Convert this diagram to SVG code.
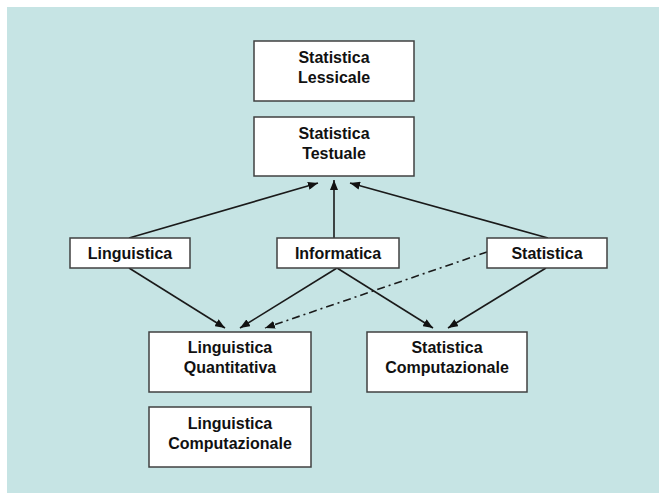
<svg xmlns="http://www.w3.org/2000/svg" width="660" height="493" viewBox="0 0 660 493">
<style>
.box{fill:#fff;stroke:#404040;stroke-width:1.5}
.t{font-family:"Liberation Sans",Arial,sans-serif;font-weight:bold;font-size:16px;fill:#111;text-anchor:middle}
.c{stroke:#1a1a1a;stroke-width:1.6;fill:none;marker-end:url(#ah)}
.dd{stroke-dasharray:8 4 2 4}
</style>
<defs>
<marker id="ah" viewBox="0 0 10 8" refX="10" refY="4" markerWidth="10" markerHeight="8" markerUnits="userSpaceOnUse" orient="auto">
<path d="M0,0 L10,4 L0,8 z" fill="#111"/>
</marker>
</defs>
<rect x="0" y="0" width="660" height="493" fill="#fff"/>
<rect x="7" y="7" width="652" height="486" fill="#c6e4e4"/>
<g id="connectors">
<line class="c" x1="129" y1="238" x2="318" y2="183"/>
<line class="c" x1="334" y1="238" x2="334" y2="180"/>
<line class="c" x1="548" y1="238" x2="350" y2="183"/>
<line class="c" x1="129" y1="268" x2="225" y2="328"/>
<line class="c" x1="337" y1="268" x2="240" y2="328"/>
<line class="c" x1="337" y1="268" x2="433" y2="328"/>
<line class="c" x1="546" y1="268" x2="448" y2="328"/>
<line class="c dd" x1="487" y1="252" x2="265" y2="328"/>
</g>
<g id="lessicale">
<rect class="box" x="254" y="41" width="160" height="60"/>
<text class="t" x="334" y="63">Statistica</text>
<text class="t" x="334" y="83">Lessicale</text>
</g>
<g id="testuale">
<rect class="box" x="254" y="117" width="160" height="59"/>
<text class="t" x="334" y="139">Statistica</text>
<text class="t" x="334" y="159">Testuale</text>
</g>
<g id="linguistica">
<rect class="box" x="70" y="238" width="120" height="30"/>
<text class="t" x="130" y="259">Linguistica</text>
</g>
<g id="informatica">
<rect class="box" x="277" y="238" width="122" height="30"/>
<text class="t" x="338" y="259">Informatica</text>
</g>
<g id="statistica">
<rect class="box" x="487" y="238" width="120" height="30"/>
<text class="t" x="547" y="259">Statistica</text>
</g>
<g id="ling-quantitativa">
<rect class="box" x="149" y="332" width="162" height="60"/>
<text class="t" x="230" y="353">Linguistica</text>
<text class="t" x="230" y="373">Quantitativa</text>
</g>
<g id="stat-computazionale">
<rect class="box" x="367" y="332" width="160" height="60"/>
<text class="t" x="447" y="353">Statistica</text>
<text class="t" x="447" y="373">Computazionale</text>
</g>
<g id="ling-computazionale">
<rect class="box" x="149" y="407" width="162" height="60"/>
<text class="t" x="230" y="429">Linguistica</text>
<text class="t" x="230" y="449">Computazionale</text>
</g>
</svg>
